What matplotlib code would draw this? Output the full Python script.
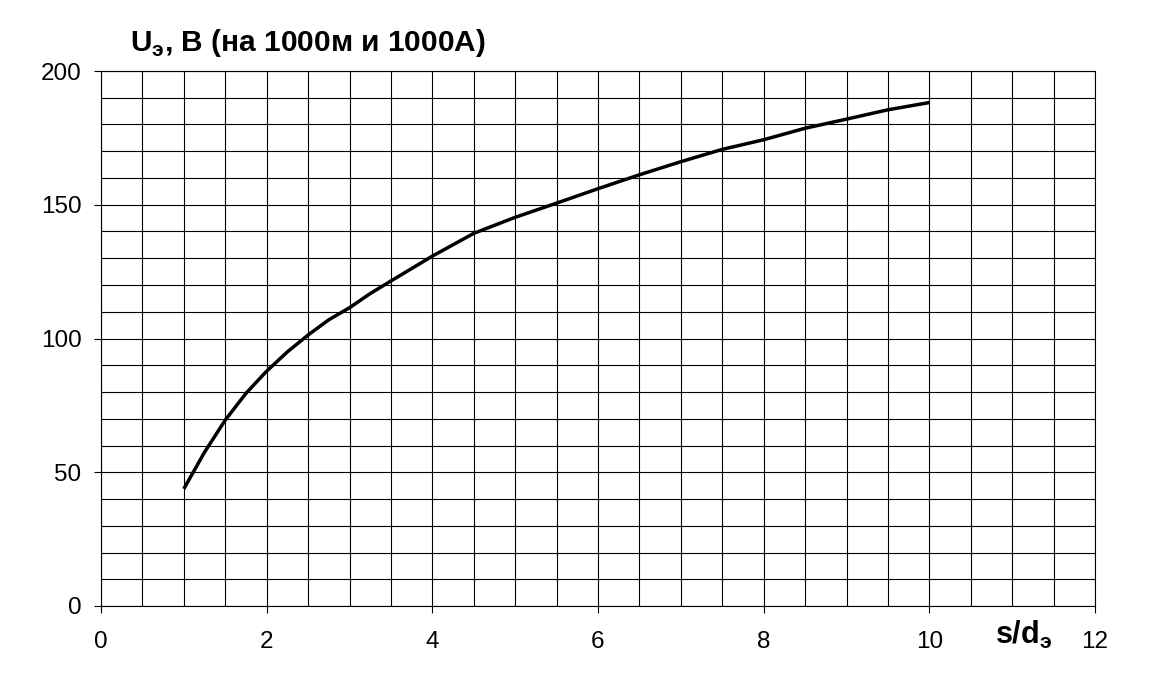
import matplotlib
matplotlib.use("Agg")
import matplotlib.pyplot as plt
from matplotlib.ticker import MultipleLocator

plt.rcParams['font.family'] = ['Liberation Sans', 'DejaVu Sans']
plt.rcParams['mathtext.fontset'] = 'custom'
plt.rcParams['mathtext.rm'] = 'Liberation Sans'
plt.rcParams['mathtext.bf'] = 'Liberation Sans:bold'

s_d = [1.0, 1.25, 1.5, 1.75, 2.0, 2.25, 2.5, 2.75, 3.0, 3.25, 3.5, 4.0, 4.5,
       5.0, 5.5, 6.0, 6.5, 7.0, 7.5, 8.0, 8.5, 9.0, 9.5, 10.0]
u_e = [43.8, 57.5, 69.5, 79.5, 87.8, 95.0, 101.3, 107.0, 111.5, 116.8, 121.5,
       130.8, 139.3, 145.3, 150.6, 156.0, 161.2, 166.1, 170.7, 174.3, 178.6,
       182.0, 185.5, 188.2]

x_ticks = [0, 2, 4, 6, 8, 10, 12]
y_ticks = [0, 50, 100, 150, 200]

fig = plt.figure(figsize=(11.57, 6.77), dpi=100)
ax = fig.add_axes([101/1157, 1 - 606/677, (1095-101)/1157, (606-71)/677])

ax.set_xlim(0, 12)
ax.set_ylim(0, 200)
ax.set_xticks(x_ticks)
ax.set_yticks(y_ticks)
ax.xaxis.set_minor_locator(MultipleLocator(0.5))
ax.yaxis.set_minor_locator(MultipleLocator(10))
ax.grid(True, which='both', color='black', linewidth=0.8)
ax.set_axisbelow(True)
ax.tick_params(axis='both', which='major', direction='out', length=5, width=0.8,
               labelsize=17.5, colors='black')
ax.tick_params(axis='x', which='major', pad=13)
ax.tick_params(axis='y', which='major', pad=9)
ax.tick_params(axis='both', which='minor', length=0)
for sp in ax.spines.values():
    sp.set_color('black')
    sp.set_linewidth(0.8)

ax.plot(s_d, u_e, color='black', linewidth=2.5, solid_capstyle='butt',
        solid_joinstyle='round', zorder=3)

fig.text(130/1157, 1 - 51/677, r"U$_\mathbf{э}$, В (на 1000м и 1000А)",
         fontsize=21.5, fontweight='bold', ha='left', va='baseline')
fig.text(995/1157, 1 - 644/677, r"s/d$_\mathbf{э}$",
         fontsize=22, fontweight='bold', ha='left', va='baseline')

fig.savefig("out.png", dpi=100, facecolor='white')
